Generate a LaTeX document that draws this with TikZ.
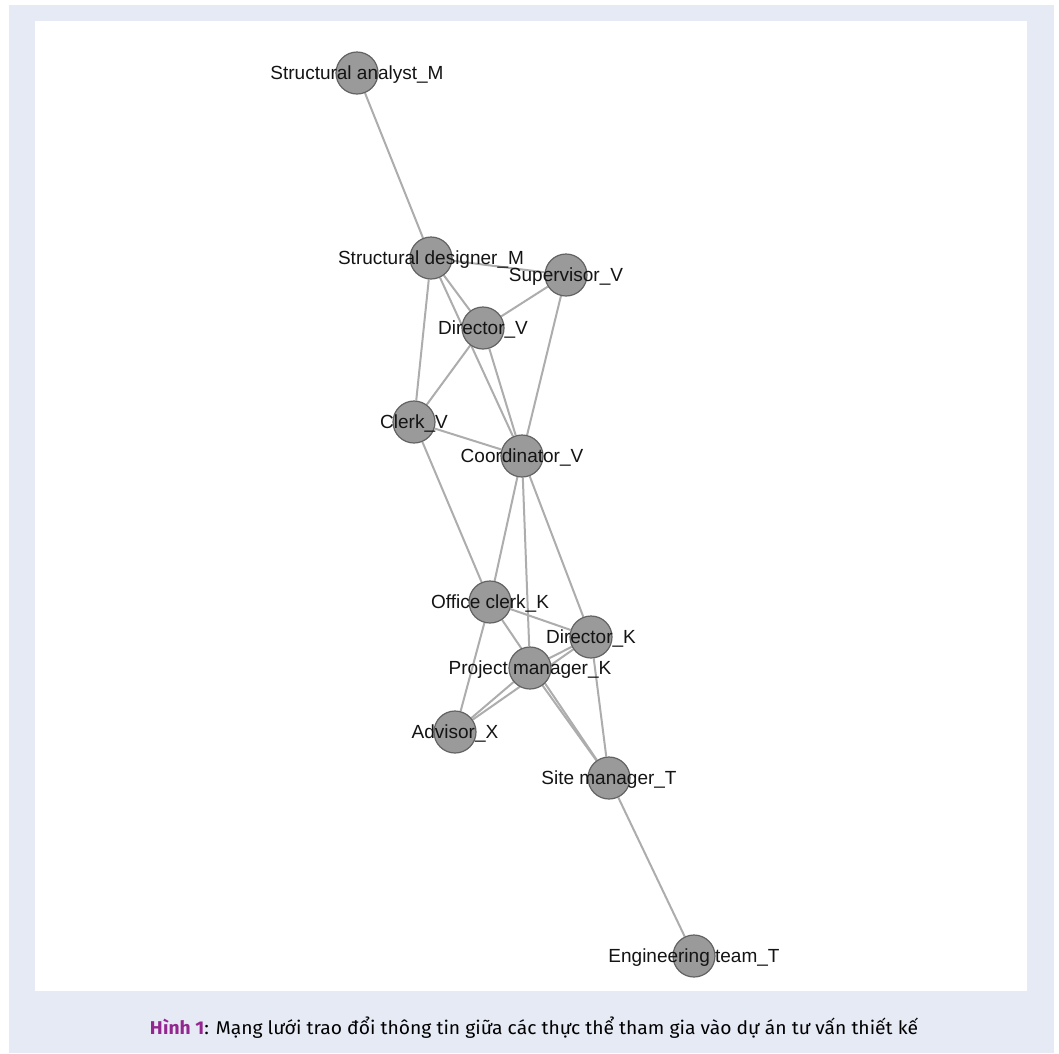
\documentclass[tikz,border=0pt]{standalone}
\usepackage{fontspec}
\usepackage{graphicx}
\setmainfont{Liberation Sans}
\newfontfamily\capfont{Fira Sans}
\definecolor{pagebg}{HTML}{E6EAF5}
\definecolor{nodefill}{HTML}{9A9A9A}
\definecolor{nodeborder}{HTML}{626262}
\definecolor{edgecol}{HTML}{ADADAD}
\definecolor{labelcol}{HTML}{141414}
\definecolor{hinh}{HTML}{93278F}
\pgfdeclarelayer{bglayer}
\pgfdeclarelayer{edgelayer}
\pgfsetlayers{bglayer,edgelayer,main}
\begin{document}
\begin{tikzpicture}[x=1pt,y=-1pt,
  vert/.style={circle,draw=nodeborder,fill=nodefill,line width=1.2pt,minimum size=42pt,inner sep=0pt},
  lbl/.style={font=\fontsize{19}{19}\selectfont,text=labelcol,inner sep=0pt,text height=13.6pt,text depth=0pt},
  edge/.style={draw=edgecol,line width=2pt},
  capstyle/.style={font=\capfont\fontsize{18.5}{18.5}\selectfont,inner sep=0pt,text=black}]
\useasboundingbox (0,0) rectangle (1059,1053);
\begin{pgfonlayer}{bglayer}
  \fill[pagebg] (9,5) rectangle (1054,1053);
  \fill[white] (35,21) rectangle (1027,991);
\end{pgfonlayer}

\node[vert,label={[lbl]center:Structural analyst\_M}] (sa) at (357,73) {};
\node[vert,label={[lbl]center:Structural designer\_M}] (sd) at (431,258) {};
\node[vert,label={[lbl]center:Supervisor\_V}] (sup) at (566,275) {};
\node[vert,label={[lbl]center:Director\_V}] (dirv) at (483,328) {};
\node[vert,label={[lbl]center:Clerk\_V}] (clerk) at (414,422) {};
\node[vert,label={[lbl]center:Coordinator\_V}] (coord) at (522,456) {};
\node[vert,label={[lbl]center:Office clerk\_K}] (oc) at (490,602) {};
\node[vert,label={[lbl]center:Director\_K}] (dk) at (591,637) {};
\node[vert,label={[lbl]center:Project manager\_K}] (pm) at (530,668) {};
\node[vert,label={[lbl]center:Advisor\_X}] (adv) at (455,732) {};
\node[vert,label={[lbl]center:Site manager\_T}] (sm) at (609,778) {};
\node[vert,label={[lbl]center:Engineering team\_T}] (et) at (694,956) {};

\begin{pgfonlayer}{edgelayer}
  \draw[edge] (sa) -- (sd);
  \draw[edge] (sd) -- (sup);
  \draw[edge] (sd) -- (dirv);
  \draw[edge] (sd) -- (clerk);
  \draw[edge] (sd) -- (coord);
  \draw[edge] (dirv) -- (sup);
  \draw[edge] (dirv) -- (clerk);
  \draw[edge] (dirv) -- (coord);
  \draw[edge] (sup) -- (coord);
  \draw[edge] (clerk) -- (coord);
  \draw[edge] (clerk) -- (oc);
  \draw[edge] (coord) -- (oc);
  \draw[edge] (coord) -- (pm);
  \draw[edge] (coord) -- (dk);
  \draw[edge] (oc) -- (dk);
  \draw[edge] (oc) -- (adv);
  \draw[edge] (oc) -- (sm);
  \draw[edge] (pm) -- (dk);
  \draw[edge] (pm) -- (adv);
  \draw[edge] (dk) -- (adv);
  \draw[edge] (pm) -- (sm);
  \draw[edge] (dk) -- (sm);
  \draw[edge] (sm) -- (et);
\end{pgfonlayer}

\node[capstyle] (cap) at (534,1028) {\resizebox{768pt}{\height}{\textbf{\color{hinh}Hình 1}: Mạng lưới trao đổi thông tin giữa các thực thể tham gia vào dự án tư vấn thiết kế}};
\end{tikzpicture}
\end{document}
